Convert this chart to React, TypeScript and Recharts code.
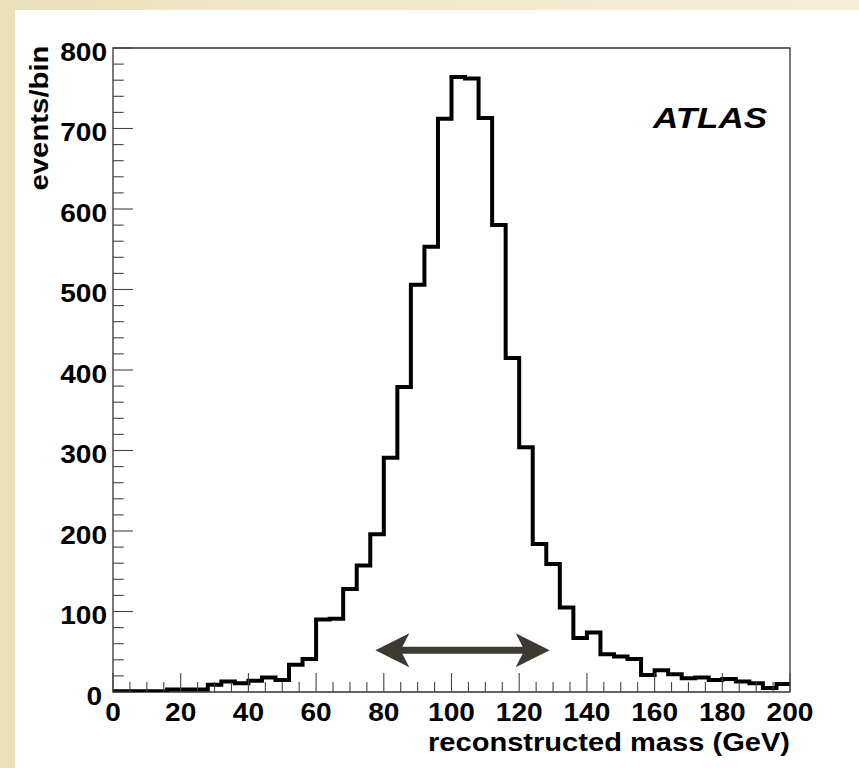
import React from "react";
import { LineChart, Line, XAxis, YAxis, ReferenceArea, ReferenceLine } from "recharts";

// Histogram: reconstructed mass, 4 GeV bins from 0 to 200 GeV
const BIN_LOW = [0, 4, 8, 12, 16, 20, 24, 28, 32, 36, 40, 44, 48, 52, 56, 60, 64, 68, 72, 76, 80, 84, 88, 92, 96, 100, 104, 108, 112, 116, 120, 124, 128, 132, 136, 140, 144, 148, 152, 156, 160, 164, 168, 172, 176, 180, 184, 188, 192, 196];
const COUNTS = [1, 1, 1, 1, 3, 3, 3, 9, 13, 11, 14, 18, 15, 34, 41, 90, 91, 128, 157, 196, 291, 379, 506, 553, 712, 764, 762, 713, 580, 415, 304, 184, 159, 105, 67, 74, 47, 44, 41, 21, 27, 22, 17, 18, 15, 16, 13, 11, 5, 10];
const X_END = 200;

const X_MAJOR = [0, 20, 40, 60, 80, 100, 120, 140, 160, 180, 200];
const Y_MAJOR = [0, 100, 200, 300, 400, 500, 600, 700, 800];
const X_MINOR_STEP = 5;
const Y_MINOR_STEP = 20;

// double-headed arrow marking the mass window (data coordinates)
const ARROW_FROM = 77.5;
const ARROW_TO = 129;
const ARROW_LEVEL = 52;

const X_TITLE = "reconstructed mass (GeV)";
const Y_TITLE = "events/bin";
const EXPERIMENT = "ATLAS";

const data = [
  ...BIN_LOW.map((m, i) => ({ mass: m, count: COUNTS[i] })),
  { mass: X_END, count: COUNTS[COUNTS.length - 1] },
];

const xTicks: number[] = [];
for (let v = 0; v <= 200; v += X_MINOR_STEP) xTicks.push(v);
const yTicks: number[] = [];
for (let v = 0; v <= 800; v += Y_MINOR_STEP) yTicks.push(v);

const FONT = "'Liberation Sans', Arial, Helvetica, sans-serif";
const DIGIT_W = 15.6;

const XTick = (props: any) => {
  const { x, y, payload } = props;
  const v = payload.value;
  const major = X_MAJOR.includes(v);
  const label = String(v);
  return (
    <g>
      <line x1={x} x2={x} y1={y} y2={y - (major ? 19 : 10)} stroke="#444" strokeWidth={1.1} />
      {major && (
        <text
          x={x}
          y={y + 28.5}
          textAnchor="middle"
          fontFamily={FONT}
          fontWeight="bold"
          fontSize={25}
          fill="#000"
          textLength={label.length * DIGIT_W}
          lengthAdjust="spacingAndGlyphs"
        >
          {label}
        </text>
      )}
    </g>
  );
};

const YTick = (props: any) => {
  const { x, y, payload } = props;
  const v = payload.value;
  const major = Y_MAJOR.includes(v);
  const label = String(v);
  return (
    <g>
      <line x1={x} x2={x + (major ? 20 : 10.7)} y1={y} y2={y} stroke="#444" strokeWidth={1.1} />
      {major && (
        <text
          x={v === 0 ? x - 11 : x - 6}
          y={y + 12.5}
          textAnchor="end"
          fontFamily={FONT}
          fontWeight="bold"
          fontSize={25}
          fill="#000"
          textLength={label.length * DIGIT_W}
          lengthAdjust="spacingAndGlyphs"
        >
          {label}
        </text>
      )}
    </g>
  );
};

const DoubleArrow = (props: any) => {
  const { x1, x2, y1 } = props;
  const l = Math.min(x1, x2);
  const r = Math.max(x1, x2);
  const cy = y1;
  const hl = 34; // head length
  const hn = 27; // notch
  const hw = 17; // half head width
  const sw = 3.5; // half shaft width
  const d = [
    `M ${l} ${cy}`,
    `L ${l + hl} ${cy - hw}`,
    `L ${l + hn} ${cy - sw}`,
    `L ${r - hn} ${cy - sw}`,
    `L ${r - hl} ${cy - hw}`,
    `L ${r} ${cy}`,
    `L ${r - hl} ${cy + hw}`,
    `L ${r - hn} ${cy + sw}`,
    `L ${l + hn} ${cy + sw}`,
    `L ${l + hl} ${cy + hw}`,
    "Z",
  ].join(" ");
  return <path d={d} fill="#3d3a31" stroke="none" />;
};

export default function App() {
  return (
    <div
      style={{
        position: "absolute",
        left: 0,
        top: 0,
        width: 859,
        height: 768,
        overflow: "hidden",
        background: "linear-gradient(90deg, #e9dfbb 0%, #efe7c9 30%, #f4edd7 100%)",
      }}
    >
      <div
        style={{
          position: "absolute",
          left: 15,
          top: 10,
          right: 0,
          bottom: 0,
          background: "#ffffff",
        }}
      />
      <div style={{ position: "absolute", left: 0, top: 0 }}>
        <LineChart
          width={859}
          height={768}
          data={data}
          margin={{ top: 48, right: 69, bottom: 16, left: 13 }}
        >
          <XAxis
            dataKey="mass"
            type="number"
            domain={[0, 200]}
            ticks={xTicks}
            interval={0}
            tick={<XTick />}
            tickLine={false}
            tickSize={0}
            tickMargin={0}
            axisLine={false}
            height={60}
            allowDataOverflow
          />
          <YAxis
            type="number"
            domain={[0, 800]}
            ticks={yTicks}
            interval={0}
            tick={<YTick />}
            tickLine={false}
            tickSize={0}
            tickMargin={0}
            axisLine={false}
            width={100}
            allowDataOverflow
          />
          <ReferenceArea
            x1={0}
            x2={200}
            y1={0}
            y2={800}
            fill="none"
            fillOpacity={0}
            stroke="#333"
            strokeWidth={1.3}
            ifOverflow="visible"
          />
          <ReferenceLine
            segment={[
              { x: ARROW_FROM, y: ARROW_LEVEL },
              { x: ARROW_TO, y: ARROW_LEVEL },
            ]}
            shape={<DoubleArrow />}
            ifOverflow="visible"
          />
          <Line
            dataKey="count"
            type="stepAfter"
            stroke="#000"
            strokeWidth={4}
            dot={false}
            activeDot={false}
            isAnimationActive={false}
          />
        </LineChart>
      </div>
      <svg
        width={859}
        height={768}
        style={{ position: "absolute", left: 0, top: 0, pointerEvents: "none" }}
      >
        <text
          x={767}
          y={128}
          textAnchor="end"
          fontFamily={FONT}
          fontWeight="bold"
          fontStyle="italic"
          fontSize={29}
          fill="#000"
          textLength={114}
          lengthAdjust="spacingAndGlyphs"
        >
          {EXPERIMENT}
        </text>
        <text
          x={790}
          y={751}
          textAnchor="end"
          fontFamily={FONT}
          fontWeight="bold"
          fontSize={26}
          fill="#000"
          textLength={362}
          lengthAdjust="spacingAndGlyphs"
        >
          {X_TITLE}
        </text>
        <text
          x={0}
          y={0}
          transform="translate(48,118) rotate(-90)"
          textAnchor="middle"
          fontFamily={FONT}
          fontWeight="bold"
          fontSize={25}
          fill="#000"
          textLength={145}
          lengthAdjust="spacingAndGlyphs"
        >
          {Y_TITLE}
        </text>
      </svg>
    </div>
  );
}
